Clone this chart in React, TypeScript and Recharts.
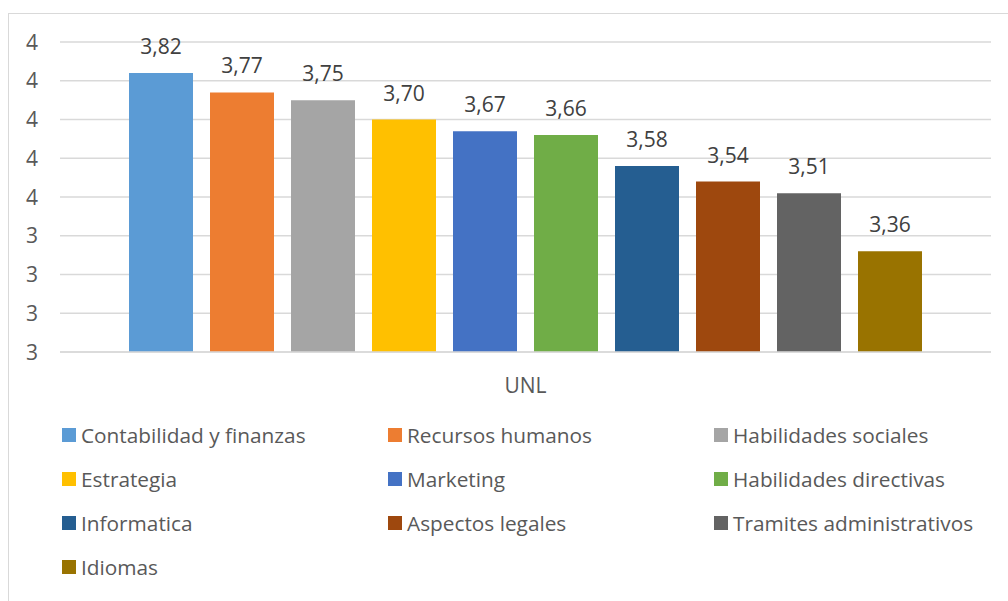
import { BarChart, Bar, XAxis, YAxis, CartesianGrid, Legend, LabelList } from "recharts";

const categories = ["UNL"];
const seriesNames = [
  "Contabilidad y finanzas",
  "Recursos humanos",
  "Habilidades sociales",
  "Estrategia",
  "Marketing",
  "Habilidades directivas",
  "Informatica",
  "Aspectos legales",
  "Tramites administrativos",
  "Idiomas",
];
const seriesValues = [3.82, 3.77, 3.75, 3.7, 3.67, 3.66, 3.58, 3.54, 3.51, 3.36];
const seriesColors = [
  "#5B9BD5",
  "#ED7D31",
  "#A5A5A5",
  "#FFC000",
  "#4472C4",
  "#70AD47",
  "#255E91",
  "#9E480E",
  "#636363",
  "#997300",
];
const yTicks = [3.1, 3.2, 3.3, 3.4, 3.5, 3.6, 3.7, 3.8, 3.9];

const data = categories.map((name) => {
  const row: Record<string, string | number> = { name };
  seriesValues.forEach((v, i) => {
    row[`s${i}`] = v;
  });
  return row;
});

const FONT = "'Open Sans', sans-serif";

const YTick = (props: any) => {
  const { x, y, payload } = props;
  return (
    <text x={x - 14} y={y} dy="0.36em" textAnchor="end" fill="#595959" fontSize={21} fontFamily={FONT}>
      {Math.round(payload.value)}
    </text>
  );
};

const XTick = (props: any) => {
  const { x, y, payload } = props;
  return (
    <text x={x} y={y + 25} dy="0.36em" textAnchor="middle" fill="#595959" fontSize={21} fontFamily={FONT}>
      {payload.value}
    </text>
  );
};

const renderLegend = () => (
  <div
    style={{
      display: "grid",
      gridTemplateColumns: "326px 326px 326px",
      fontFamily: FONT,
      fontSize: 20.8,
      color: "#595959",
    }}
  >
    {seriesNames.map((n, i) => (
      <div key={n} style={{ display: "flex", alignItems: "center", height: 44 }}>
        <span style={{ width: 14, height: 14, background: seriesColors[i], marginRight: 5, flex: "none" }} />
        <span style={{ whiteSpace: "nowrap" }}>{n}</span>
      </div>
    ))}
  </div>
);

export default function App() {
  return (
    <div
      style={{
        position: "absolute",
        left: 8,
        top: 13,
        width: 999,
        height: 588,
        borderLeft: "1px solid #d9d9d9",
        borderTop: "1px solid #d9d9d9",
        background: "#fff",
        fontFamily: FONT,
      }}
    >
      <BarChart
        width={999}
        height={587}
        data={data}
        margin={{ top: 28, right: 17, bottom: 219, left: 0 }}
        barCategoryGap={69}
        barGap={17}
      >
        <CartesianGrid horizontal vertical={false} stroke="#d9d9d9" strokeWidth={1.5} />
        <XAxis
          dataKey="name"
          height={30}
          tickLine={false}
          axisLine={{ stroke: "#d9d9d9", strokeWidth: 1.5 }}
          tick={<XTick />}
        />
        <YAxis
          width={51}
          domain={[3.1, 3.9]}
          ticks={yTicks}
          tickLine={false}
          axisLine={false}
          tick={<YTick />}
        />
        <Legend
          layout="horizontal"
          verticalAlign="middle"
          content={renderLegend}
          wrapperStyle={{ position: "absolute", left: 53, top: 399, width: 980 }}
        />
        {seriesNames.map((n, i) => (
          <Bar key={n} dataKey={`s${i}`} name={n} fill={seriesColors[i]} isAnimationActive={false}>
            <LabelList
              dataKey={`s${i}`}
              position="top"
              offset={19}
              fill="#404040"
              fontSize={21}
              fontFamily={FONT}
              formatter={(v: any) => Number(v).toFixed(2).replace(".", ",")}
            />
          </Bar>
        ))}
      </BarChart>
    </div>
  );
}
